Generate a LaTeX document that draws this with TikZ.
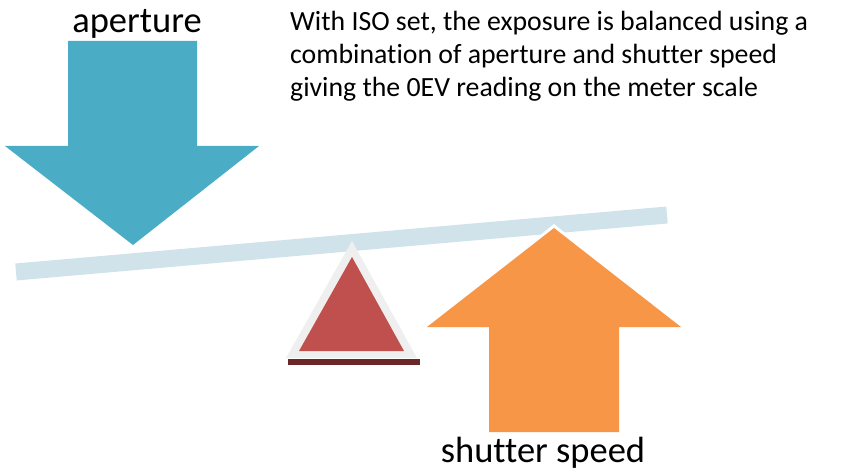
\documentclass[tikz,border=0pt]{standalone}
\usepackage{fontspec}
\setmainfont[Ligatures={NoCommon}]{Carlito}
\definecolor{apblue}{HTML}{4BACC6}
\definecolor{shorange}{HTML}{F79646}
\definecolor{barcol}{HTML}{D0E3EA}
\definecolor{trired}{HTML}{C0504D}
\definecolor{trigray}{HTML}{EFEFEF}
\definecolor{tridark}{HTML}{6B2626}
\tikzset{
  labeltext/.style={font=\fontsize{36.5}{43}\selectfont, inner sep=0pt, anchor=base},
  paratext/.style={font=\fontsize{27.8}{33}\selectfont, inner sep=0pt, anchor=base west},
}
\begin{document}
\begin{tikzpicture}[x=1pt,y=-1pt]
\useasboundingbox (0,0) rectangle (841,473);
% seesaw bar
\coordinate (barL) at (16,272);
\coordinate (barR) at (667,215);
\draw[barcol, line width=17pt] (barL) -- (barR);
% fulcrum triangle
\fill[tridark] (288,359) rectangle (420,365);
\fill[trigray] (352,241) -- (417,358) -- (286,358) -- cycle;
\fill[trired] (352,257) -- (404,351) -- (299,351) -- cycle;
% aperture arrow
\fill[apblue] (68,41) -- (197,41) -- (197,146) -- (259,146) -- (133,245) -- (5,146) -- (68,146) -- cycle;
% shutter speed arrow
\fill[white] (554,224) -- (685,330) -- (423,330) -- cycle;
\fill[shorange] (554,228) -- (681,327) -- (619,327) -- (619,432) -- (489,432) -- (489,327) -- (427,327) -- cycle;
% labels
\node[labeltext] (ap) at (137,33) {aperture};
\node[labeltext] (sh) at (543,462) {shutter speed};
\node[paratext] (p1) at (290,31) {With ISO set, the exposure is balanced using a};
\node[paratext] (p2) at (290,64) {combination of aperture and shutter speed};
\node[paratext] (p3) at (290,97) {giving the 0EV reading on the meter scale};
\end{tikzpicture}
\end{document}
